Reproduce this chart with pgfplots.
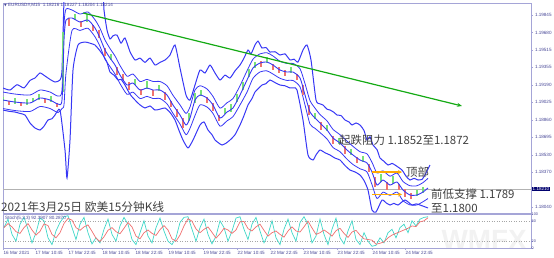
\documentclass[border=0pt]{standalone}
\usepackage{fontspec}
\usepackage{pgfplots}
\pgfplotsset{compat=1.18}
\usetikzlibrary{arrows.meta}
\setmainfont{Liberation Sans}
\newfontfamily\cjk{Noto Sans CJK SC}
\newfontfamily\dvs{DejaVu Sans}
\newcommand\tnf{\fontsize{4.6}{5.5}\selectfont}
\definecolor{bb}{RGB}{55,55,245}
\definecolor{cred}{RGB}{240,115,110}
\definecolor{cgreen}{RGB}{120,225,120}
\definecolor{tgreen}{RGB}{20,170,20}
\definecolor{org}{RGB}{255,170,0}
\definecolor{frame}{RGB}{165,165,215}
\definecolor{lbl}{RGB}{70,70,150}
\definecolor{txt}{RGB}{64,64,64}
\definecolor{turq}{RGB}{64,215,200}
\definecolor{sal}{RGB}{240,110,110}
\begin{document}
\begin{tikzpicture}
\path[use as bounding box] (0,0) rectangle (554bp,258bp);
\node[text=black!5, font=\fontsize{28}{28}\selectfont\bfseries, anchor=south east, inner sep=0pt] at (527bp,8bp) {WMFX};
\begin{axis}[at={(3bp,45bp)}, anchor=south west, scale only axis,
  width=528bp, height=210bp, xmin=3, xmax=531, ymin=1.17984, ymax=1.19958,
  xtick=\empty, scaled y ticks=false,
  ytick={1.18040,1.18370,1.18530,1.18695,1.18860,1.19025,1.19190,1.19355,1.19515,1.19680,1.19845},
  yticklabels={1.18040,1.18370,1.18530,1.18695,1.18860,1.19025,1.19190,1.19355,1.19515,1.19680,1.19845},
  ytick pos=right, yticklabel pos=right, tick align=outside, major tick length=2bp,
  tick style={frame}, yticklabel style={font=\tnf, text=lbl, xshift=-1.5bp},
  axis line style={frame, line width=0.6bp}]
% current price line
\addplot[black!30, line width=0.5bp] coordinates {(3,1.18210) (531,1.18210)};
% outer upper band
\addplot[bb, line width=1bp, smooth, tension=0.35] coordinates {
(3,1.19159) (10,1.19140) (17,1.19190) (24,1.19160) (30,1.19230) (35,1.19253) (40,1.19300) (45,1.19272)
(50,1.19240) (55,1.19215) (60,1.19234) (62,1.19328)
(64,1.19986) (66,1.20270) (100,1.20270) (104,1.19892) (107,1.19704) (110,1.19620) (113,1.19650) (117,1.19657)
(121,1.19580) (125,1.19629) (130,1.19500) (135,1.19422) (140,1.19440) (145,1.19400) (150,1.19440) (155,1.19375)
(160,1.19400) (165,1.19422) (170,1.19469) (175,1.19563)
(180,1.19347) (186,1.19093) (190,1.19046) (195,1.19187) (200,1.19328) (205,1.19300) (210,1.19375) (215,1.19300)
(220,1.19234) (225,1.19280) (230,1.19253) (235,1.19320) (240,1.19375) (244,1.19440) (248,1.19516) (251,1.19480)
(255,1.19563) (258,1.19600) (262,1.19535) (266,1.19540) (270,1.19497) (275,1.19500) (280,1.19469) (285,1.19480)
(290,1.19422) (294,1.19430) (298,1.19403) (303,1.19516) (307,1.19563) (311,1.19422) (316,1.19046) (320,1.19010)
(323,1.18999) (327,1.18960) (330,1.18952) (334,1.18930) (337,1.18905) (341,1.18900) (345,1.18858) (349,1.18840)
(352,1.18811) (356,1.18830) (360,1.18811) (364,1.18760) (367,1.18670) (370,1.18700) (373,1.18623) (377,1.18580)
(380,1.18501) (384,1.18470) (388,1.18435) (392,1.18450) (395,1.18435) (402,1.18388) (406,1.18330) (410,1.18294)
(414,1.18310) (418,1.18294) (422,1.18300) (425,1.18341) (430,1.18435)};
% outer lower band
\addplot[bb, line width=1bp, smooth, tension=0.35] coordinates {
(3,1.18952) (9,1.18940) (15,1.18933) (20,1.18920) (25,1.18905) (30,1.18830) (35,1.18783) (40,1.18764)
(44,1.18800) (48,1.18858) (52,1.18870) (55,1.18905) (60,1.18952)
(65,1.18576) (67,1.18313) (70,1.18670) (73,1.19328) (78,1.19563) (85,1.19591) (90,1.19580) (95,1.19563)
(99,1.19520) (103,1.19469) (107,1.19400) (110,1.19309) (114,1.19280) (118,1.19234) (121,1.19240) (125,1.19187)
(130,1.19100) (135,1.19046) (140,1.19000) (145,1.18971) (150,1.18990) (155,1.18952) (160,1.18960) (165,1.18971)
(170,1.18930) (175,1.18858) (179,1.18760) (183,1.18670) (188,1.18595) (193,1.18670) (200,1.18811) (204,1.18840)
(208,1.18764) (212,1.18720) (215,1.18670) (219,1.18640) (222,1.18623) (226,1.18640) (230,1.18670) (235,1.18720)
(240,1.18811) (244,1.18900) (248,1.18999) (252,1.19060) (255,1.19121) (258,1.19150) (262,1.19187) (266,1.19200)
(270,1.19234) (275,1.19210) (280,1.19187) (285,1.19180) (290,1.19159) (294,1.19160) (297,1.19140) (303,1.18858)
(308,1.18529) (313,1.18482) (316,1.18530) (320,1.18576) (325,1.18550) (330,1.18529) (335,1.18500) (340,1.18482)
(345,1.18430) (350,1.18388) (355,1.18370) (360,1.18341) (364,1.18290) (368,1.18200) (372,1.18012) (376,1.17993)
(382,1.18106) (386,1.18080) (390,1.18059) (394,1.18075) (398,1.18059) (405,1.18106) (412,1.18059) (416,1.18070)
(420,1.18059) (428,1.18031)};
% inner upper band
\addplot[bb, line width=0.8bp, smooth, tension=0.4] coordinates {
(3,1.19121) (15,1.19102) (30,1.19093) (40,1.19140) (50,1.19121) (58,1.19083) (62,1.19140) (64,1.19750)
(66,1.19900) (72,1.19892) (80,1.19854) (88,1.19873) (95,1.19800) (100,1.19720) (105,1.19610) (110,1.19530)
(115,1.19460) (120,1.19370) (127,1.19270) (133,1.19290) (140,1.19220) (147,1.19240) (153,1.19220)
(160,1.19220) (167,1.19180) (173,1.19090) (180,1.19000) (186,1.18920) (190,1.18980) (195,1.19140)
(200,1.19180) (207,1.19150) (213,1.19080) (220,1.18970) (227,1.19020) (233,1.19060) (240,1.19180)
(247,1.19320) (253,1.19430) (260,1.19480) (267,1.19490) (273,1.19460) (280,1.19410) (287,1.19390)
(293,1.19390) (300,1.19340) (305,1.19200) (310,1.19040) (315,1.18970) (320,1.18910) (327,1.18850)
(333,1.18770) (340,1.18720) (347,1.18660) (353,1.18610) (360,1.18560) (367,1.18540) (372,1.18460)
(377,1.18360) (383,1.18380) (390,1.18330) (397,1.18360) (403,1.18280) (410,1.18240) (417,1.18240)
(423,1.18270) (428,1.18310)};
% inner lower band
\addplot[bb, line width=0.8bp, smooth, tension=0.4] coordinates {
(3,1.18966) (15,1.18947) (30,1.18938) (40,1.18985) (50,1.18966) (58,1.18928) (62,1.18966) (64,1.19000)
(66,1.19300) (72,1.19700) (80,1.19700) (88,1.19720) (95,1.19640) (100,1.19550) (105,1.19430) (110,1.19360)
(115,1.19290) (120,1.19200) (127,1.19100) (133,1.19120) (140,1.19060) (147,1.19080) (153,1.19060)
(160,1.19060) (167,1.19010) (173,1.18920) (180,1.18820) (186,1.18720) (190,1.18780) (195,1.18900)
(200,1.19000) (207,1.18980) (213,1.18920) (220,1.18800) (227,1.18850) (233,1.18890) (240,1.19000)
(247,1.19120) (253,1.19250) (260,1.19310) (267,1.19320) (273,1.19290) (280,1.19250) (287,1.19230)
(293,1.19230) (300,1.19170) (305,1.19000) (310,1.18820) (315,1.18780) (320,1.18740) (327,1.18680)
(333,1.18600) (340,1.18560) (347,1.18490) (353,1.18440) (360,1.18400) (367,1.18370) (372,1.18250)
(377,1.18120) (383,1.18180) (390,1.18150) (397,1.18180) (403,1.18100) (410,1.18060) (417,1.18060)
(423,1.18090) (428,1.18120)};
% candles green
\addplot[draw=none, mark=none, forget plot, error bars/.cd, y dir=both, y explicit, error mark=none,
  error bar style={draw=cgreen, line width=1.8bp}] table[x index=0, y index=1, y error index=2] {
3 1.19055 0.00019
15 1.19037 0.00028
27 1.19027 0.00028
33 1.19046 0.00019
39 1.19074 0.00028
51 1.19055 0.00028
63 1.19403 0.00282
75 1.19826 0.00028
87 1.19817 0.00038
111 1.19450 0.00028
135 1.19215 0.00028
147 1.19187 0.00038
159 1.19159 0.00028
189 1.18886 0.00038
195 1.19065 0.00047
201 1.19112 0.00028
225 1.18943 0.00028
231 1.18971 0.00038
237 1.19065 0.00038
243 1.19178 0.00038
249 1.19300 0.00038
255 1.19375 0.00028
267 1.19422 0.00028
291 1.19328 0.00028
315 1.18896 0.00028
327 1.18783 0.00028
339 1.18661 0.00028
351 1.18557 0.00028
363 1.18491 0.00028
381 1.18313 0.00038
393 1.18294 0.00038
417 1.18172 0.00028
423 1.18200 0.00028
};
% candles red
\addplot[draw=none, mark=none, forget plot, error bars/.cd, y dir=both, y explicit, error mark=none,
  error bar style={draw=cred, line width=1.8bp}] table[x index=0, y index=1, y error index=2] {
9 1.19018 0.00019
21 1.19008 0.00019
45 1.19037 0.00019
57 1.18999 0.00019
69 1.19779 0.00038
81 1.19760 0.00028
93 1.19723 0.00028
99 1.19666 0.00038
105 1.19497 0.00038
117 1.19319 0.00038
123 1.19262 0.00028
129 1.19178 0.00038
141 1.19121 0.00028
153 1.19112 0.00028
165 1.19084 0.00038
171 1.19008 0.00028
177 1.18924 0.00038
183 1.18830 0.00047
207 1.19046 0.00028
213 1.18980 0.00038
219 1.18877 0.00028
261 1.19384 0.00028
273 1.19356 0.00028
279 1.19328 0.00028
285 1.19300 0.00028
297 1.19262 0.00028
303 1.19140 0.00047
309 1.18952 0.00047
321 1.18802 0.00038
333 1.18670 0.00038
345 1.18576 0.00038
357 1.18482 0.00028
369 1.18407 0.00038
375 1.18275 0.00047
387 1.18238 0.00038
399 1.18228 0.00028
405 1.18172 0.00038
411 1.18144 0.00028
};
% middle band
\addplot[bb, line width=0.9bp, smooth, tension=0.4] coordinates {
(3,1.19046) (15,1.19027) (30,1.19018) (40,1.19065) (50,1.19046) (58,1.19008) (62,1.19046) (64,1.19610)
(66,1.19798) (72,1.19817) (80,1.19779) (88,1.19798) (95,1.19723) (100,1.19629) (105,1.19516) (110,1.19441)
(115,1.19375) (120,1.19281) (127,1.19187) (133,1.19206) (140,1.19140) (147,1.19159) (153,1.19140)
(160,1.19140) (167,1.19093) (173,1.18999) (180,1.18905) (186,1.18811) (190,1.18877) (195,1.19046)
(200,1.19093) (207,1.19065) (213,1.18999) (220,1.18877) (227,1.18933) (233,1.18971) (240,1.19093)
(247,1.19234) (253,1.19347) (260,1.19394) (267,1.19403) (273,1.19375) (280,1.19328) (287,1.19309)
(293,1.19309) (300,1.19253) (305,1.19093) (310,1.18933) (315,1.18877) (320,1.18830) (327,1.18764)
(333,1.18689) (340,1.18642) (347,1.18576) (353,1.18529) (360,1.18482) (367,1.18454) (372,1.18369)
(377,1.18247) (383,1.18294) (390,1.18247) (397,1.18275) (403,1.18200) (410,1.18153) (417,1.18153)
(423,1.18181) (428,1.18219)};
% trend line
\addplot[tgreen, line width=1.2bp, -{Stealth[length=5bp,width=4bp]}] coordinates {(83,1.19864) (462,1.18990)};
% orange arrows
\addplot[org, line width=1.3bp, -{Stealth[length=4bp,width=4bp]}] coordinates {(372,1.18369) (402,1.18369)};
\addplot[org, line width=1.3bp, -{Stealth[length=4bp,width=4bp]}] coordinates {(372,1.18158) (402,1.18158)};
\end{axis}
% current price box
\node[fill={rgb,255:red,0;green,0;blue,110}, text=white, font=\tnf, inner xsep=1bp, inner ysep=0.6bp, anchor=west] at (531.5bp,69bp) {1.18210};
% top-left info
\node[anchor=west, font=\tnf, text=lbl, inner sep=0pt] at (4bp,253bp) {{\dvs\fontsize{3.5}{4}\selectfont ▼} EURUSD\#,M15\ \ 1.18216 1.18227 1.18204 1.18214};
% annotations
\node[anchor=west, text=txt, font=\cjk\fontsize{11.5}{13}\selectfont, inner sep=0pt] at (339bp,118bp) {起跌阻力 1.1852至1.1872};
\node[anchor=west, text=txt, font=\cjk\fontsize{11.5}{13}\selectfont, inner sep=0pt] at (406bp,86bp) {顶部};
\node[anchor=west, text=txt, font=\cjk\fontsize{11.5}{13}\selectfont, inner sep=0pt] at (431bp,64bp) {前低支撑 1.1789};
\node[anchor=west, text=txt, font=\cjk\fontsize{11.5}{13}\selectfont, inner sep=0pt] at (431bp,50bp) {至1.1800};
\node[anchor=west, text=txt, font=\cjk\fontsize{11.8}{13}\selectfont, inner sep=0pt] at (1bp,51bp) {2021年3月25日 欧美15分钟K线};
% stochastic panel
\begin{axis}[at={(3bp,10bp)}, anchor=south west, scale only axis,
  width=528bp, height=34bp, xmin=3, xmax=531, ymin=0, ymax=100,
  ytick={0,20,80,100}, yticklabels={0,20,80,100},
  ytick pos=right, yticklabel pos=right, tick align=outside, major tick length=2bp,
  xtick={3,35,68,102,135,168,203,237,270,303,337,372,405}, xtick pos=bottom,
  xticklabels={16 Mar 2021,17 Mar 10:45,17 Mar 22:45,18 Mar 10:45,18 Mar 22:45,19 Mar 10:45,19 Mar 22:45,22 Mar 10:45,22 Mar 22:45,23 Mar 10:45,23 Mar 22:45,24 Mar 10:45,24 Mar 22:45},
  xticklabel style={anchor=north west, font=\tnf, text=lbl, inner xsep=0.5bp, inner ysep=1bp},
  tick style={frame}, yticklabel style={font=\fontsize{3.8}{4}\selectfont, text=lbl, xshift=-1.5bp, inner sep=0pt},
  axis line style={frame, line width=0.6bp}]
\addplot[black!35, dotted, line width=0.5bp] coordinates {(3,20) (531,20)};
\addplot[black!35, dotted, line width=0.5bp] coordinates {(3,80) (531,80)};
\addplot[turq, line width=0.7bp] coordinates {
(4,60) (8,85) (12,40) (16,20) (20,70) (24,90) (28,55) (32,15) (36,45) (40,88) (44,80) (48,30) (52,10)
(56,50) (60,75) (64,92) (68,95) (72,60) (76,25) (80,70) (84,90) (88,45) (92,12) (96,30) (100,15) (104,55)
(108,85) (112,40) (116,20) (120,65) (124,90) (128,70) (132,25) (136,10) (140,45) (144,80) (148,35) (152,15)
(156,60) (160,88) (164,50) (168,20) (172,10) (176,30) (180,75) (184,90) (188,92) (192,55) (196,20) (200,60)
(204,85) (208,40) (212,12) (216,35) (220,80) (224,60) (228,20) (232,50) (236,88) (240,92) (244,55) (248,25)
(252,70) (256,90) (260,50) (264,15) (268,40) (272,80) (276,30) (280,10) (284,55) (288,85) (292,45) (296,20)
(300,75) (304,92) (308,70) (312,15) (316,35) (320,85) (324,40) (328,10) (332,55) (336,88) (340,30) (344,12)
(348,50) (352,80) (356,25) (360,10) (364,45) (368,20) (372,5) (376,8) (380,30) (384,15) (388,45) (392,55)
(396,30) (400,60) (404,70) (408,45) (412,80) (416,65) (420,85) (424,90) (428,92)};
\addplot[sal, line width=0.7bp] coordinates {
(4,60) (8,72) (12,62) (16,48) (20,43) (24,60) (28,72) (32,53) (36,38) (40,49) (44,71) (48,66) (52,40)
(56,30) (60,45) (64,72) (68,87) (72,82) (76,60) (80,52) (84,62) (88,68) (92,49) (96,29) (100,19) (104,33)
(108,52) (112,60) (116,48) (120,42) (124,58) (128,75) (132,62) (136,35) (140,27) (144,45) (148,53) (152,43)
(156,37) (160,54) (164,66) (168,53) (172,27) (176,20) (180,38) (184,65) (188,86) (192,79) (196,56) (200,45)
(204,55) (208,62) (212,46) (216,29) (220,42) (224,58) (228,53) (232,43) (236,53) (240,77) (244,78) (248,57)
(252,50) (256,62) (260,70) (264,52) (268,35) (272,45) (276,50) (280,40) (284,32) (288,50) (292,62) (296,50)
(300,47) (304,62) (308,79) (312,59) (316,40) (320,45) (324,53) (328,45) (332,35) (336,51) (340,58) (344,43)
(348,31) (352,47) (356,52) (360,38) (364,27) (368,25) (372,23) (376,11) (380,14) (384,18) (388,30) (392,38)
(396,43) (400,48) (404,53) (408,58) (412,65) (416,63) (420,77) (424,80) (428,89)};
\end{axis}
\node[anchor=west, font=\tnf, text=lbl, inner sep=0pt] at (5bp,40bp) {Stoch(5,3,3) 92.3907 80.2870};
\end{tikzpicture}
\end{document}
